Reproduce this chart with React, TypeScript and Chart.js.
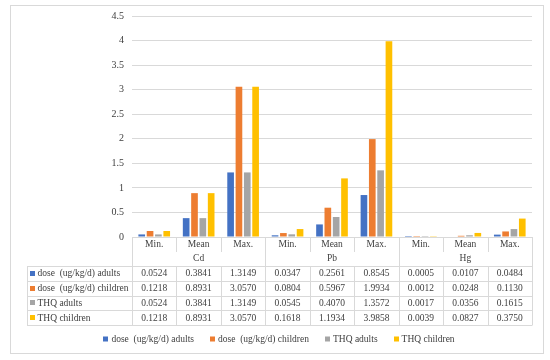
import React, { useEffect, useRef } from "react";
import { Chart, registerables } from "chart.js";

Chart.register(...registerables);

const categories = ["Min.", "Mean", "Max.", "Min.", "Mean", "Max.", "Min.", "Mean", "Max."];
const groups = ["Cd", "Pb", "Hg"];
const seriesLabels = [
  "dose  (ug/kg/d) adults",
  "dose  (ug/kg/d) children",
  "THQ adults",
  "THQ children",
];
const seriesColors = ["#4472C4", "#ED7D31", "#A5A5A5", "#FFC000"];
const doseAdults = [0.0524, 0.3841, 1.3149, 0.0347, 0.2561, 0.8545, 0.0005, 0.0107, 0.0484];
const doseChildren = [0.1218, 0.8931, 3.057, 0.0804, 0.5967, 1.9934, 0.0012, 0.0248, 0.113];
const thqAdults = [0.0524, 0.3841, 1.3149, 0.0545, 0.407, 1.3572, 0.0017, 0.0356, 0.1615];
const thqChildren = [0.1218, 0.8931, 3.057, 0.1618, 1.1934, 3.9858, 0.0039, 0.0827, 0.375];
const yMin = 0;
const yMax = 4.5;
const yStep = 0.5;

const FONT = "'Liberation Serif', 'Times New Roman', serif";
const TEXT = "#404040";
const LINE = "#D9D9D9";

const tablePlugin = {
  id: "tablePlugin",
  beforeDraw(chart: any) {
    const ctx = chart.ctx;
    ctx.save();
    ctx.fillStyle = "#FFFFFF";
    ctx.fillRect(0, 0, chart.width, chart.height);
    ctx.strokeStyle = LINE;
    ctx.lineWidth = 1;
    ctx.strokeRect(10.5, 5.5, 533, 348);
    ctx.restore();
  },
  afterDraw(chart: any) {
    const ctx = chart.ctx;
    const area = chart.chartArea;
    const n = categories.length;
    const w = (area.right - area.left) / n;
    const top = area.bottom;
    const headerMid = top + 15;
    const rowTop = top + 29;
    const rowH = 14.75;
    const tableBottom = rowTop + rowH * 4;
    const labelLeft = 27;
    const px = (v: number) => Math.round(v) + 0.5;

    ctx.save();
    ctx.strokeStyle = LINE;
    ctx.lineWidth = 1;
    ctx.beginPath();
    for (let r = 0; r <= 4; r++) {
      const y = px(rowTop + r * rowH);
      ctx.moveTo(labelLeft, y);
      ctx.lineTo(area.right, y);
    }
    ctx.moveTo(px(labelLeft), px(rowTop));
    ctx.lineTo(px(labelLeft), px(tableBottom));
    for (let i = 0; i <= n; i++) {
      const x = px(area.left + i * w);
      if (i % 3 === 0) {
        ctx.moveTo(x, top);
        ctx.lineTo(x, px(tableBottom));
      } else {
        ctx.moveTo(x, top);
        ctx.lineTo(x, top + 15);
        ctx.moveTo(x, px(rowTop));
        ctx.lineTo(x, px(tableBottom));
      }
    }
    ctx.stroke();

    ctx.fillStyle = TEXT;
    ctx.font = `9.5px ${FONT}`;
    ctx.textAlign = "center";
    ctx.textBaseline = "middle";
    for (let i = 0; i < n; i++) {
      const cx = area.left + (i + 0.5) * w;
      ctx.fillText(categories[i], cx, top + 7.5);
    }
    for (let g = 0; g < groups.length; g++) {
      const cx = area.left + (g * 3 + 1.5) * w;
      ctx.fillText(groups[g], cx, headerMid + 6.5);
    }
    const datasets = chart.data.datasets;
    for (let r = 0; r < datasets.length; r++) {
      const cy = rowTop + (r + 0.5) * rowH;
      ctx.textAlign = "center";
      ctx.fillStyle = TEXT;
      const vals = datasets[r].data as number[];
      for (let i = 0; i < n; i++) {
        const cx = area.left + (i + 0.5) * w;
        ctx.fillText(vals[i].toFixed(4), cx, cy + 0.5);
      }
      ctx.fillStyle = datasets[r].backgroundColor;
      ctx.fillRect(30, Math.round(cy - 2.5), 5, 5);
      ctx.fillStyle = TEXT;
      ctx.textAlign = "left";
      ctx.fillText(datasets[r].label, 37.5, cy + 0.5);
    }

    const ly = 339;
    const box = 5;
    const gapBoxText = 3;
    const gapItems = 16;
    const widths = datasets.map((d: any) => ctx.measureText(d.label).width);
    const total =
      widths.reduce((a: number, b: number) => a + b, 0) +
      datasets.length * (box + gapBoxText) +
      (datasets.length - 1) * gapItems;
    let x = 279 - total / 2;
    ctx.textAlign = "left";
    for (let r = 0; r < datasets.length; r++) {
      ctx.fillStyle = datasets[r].backgroundColor;
      ctx.fillRect(Math.round(x), ly - 2.5, box, box);
      x += box + gapBoxText;
      ctx.fillStyle = TEXT;
      ctx.fillText(datasets[r].label, x, ly + 0.5);
      x += widths[r] + gapItems;
    }
    ctx.restore();
  },
};

export default function App() {
  const ref = useRef<HTMLCanvasElement | null>(null);
  useEffect(() => {
    if (!ref.current) return;
    const seriesData = [doseAdults, doseChildren, thqAdults, thqChildren];
    const chart = new Chart(ref.current, {
      type: "bar",
      data: {
        labels: categories,
        datasets: seriesData.map((d, i) => ({
          label: seriesLabels[i],
          data: d,
          backgroundColor: seriesColors[i],
          borderWidth: 0,
          barPercentage: 0.8,
          categoryPercentage: 0.75,
        })),
      },
      options: {
        responsive: false,
        animation: false,
        devicePixelRatio: 1,
        layout: { padding: { left: 0, right: 18, top: 16, bottom: 123 } },
        plugins: {
          legend: { display: false },
          tooltip: { enabled: false },
          title: { display: false },
        },
        scales: {
          x: { display: false },
          y: {
            min: yMin,
            max: yMax,
            afterFit: (scale: any) => {
              scale.width = 132;
            },
            ticks: {
              stepSize: yStep,
              padding: 8,
              color: TEXT,
              font: { family: FONT, size: 10 },
              callback: (v: any) => String(Number(v)),
            },
            grid: { color: LINE, drawTicks: false },
            border: { display: false },
          },
        },
      },
      plugins: [tablePlugin],
    });
    return () => chart.destroy();
  }, []);
  return (
    <div style={{ position: "absolute", left: 0, top: 0, width: 550, height: 360, background: "#fff" }}>
      <canvas ref={ref} width={550} height={360} style={{ display: "block", width: 550, height: 360 }} />
    </div>
  );
}
